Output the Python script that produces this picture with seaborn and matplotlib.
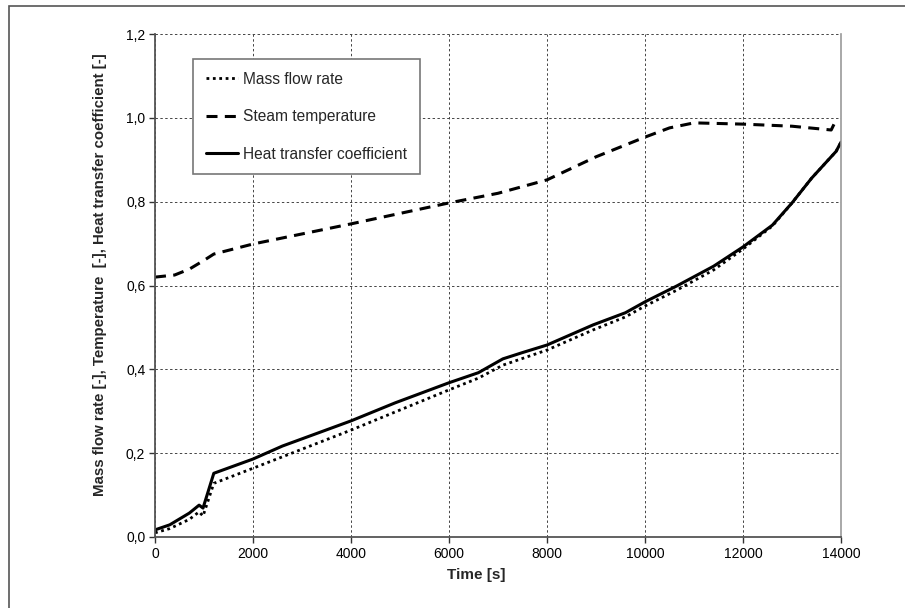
import matplotlib
matplotlib.use("Agg")
import matplotlib.pyplot as plt
import seaborn as sns
import pandas as pd
from matplotlib.patches import Rectangle
from matplotlib.ticker import FuncFormatter

# ---- data ----
t_mass = [0, 300, 700, 900, 980, 1200, 2000, 4000, 6000, 6600, 7100, 8000, 8940,
          9600, 10000, 10650, 11400, 12000, 12600, 13000, 13400, 13900, 14000]
mass_flow = [0.010, 0.020, 0.042, 0.060, 0.050, 0.128, 0.164, 0.255, 0.351, 0.379,
             0.410, 0.446, 0.494, 0.525, 0.551, 0.589, 0.637, 0.687, 0.742, 0.797,
             0.856, 0.920, 0.942]

t_steam = [0, 400, 700, 1000, 1200, 2000, 4000, 6000, 7000, 8000, 9000, 10000,
           10500, 11000, 12000, 13000, 13800, 13900]
steam_temp = [0.620, 0.625, 0.639, 0.660, 0.675, 0.699, 0.747, 0.797, 0.820, 0.852,
              0.907, 0.954, 0.976, 0.988, 0.985, 0.980, 0.971, 0.995]

t_htc = [0, 300, 700, 900, 980, 1200, 2000, 2600, 4000, 4900, 6000, 6600, 7100,
         7500, 8000, 8940, 9600, 10000, 10650, 11400, 12000, 12600, 13000, 13400,
         13900, 14000]
htc = [0.017, 0.029, 0.057, 0.076, 0.069, 0.152, 0.186, 0.217, 0.277, 0.320, 0.368,
       0.392, 0.425, 0.440, 0.458, 0.506, 0.535, 0.561, 0.599, 0.646, 0.692, 0.744,
       0.797, 0.856, 0.920, 0.942]

labels = ["Mass flow rate", "Steam temperature", "Heat transfer coefficient"]
x_ticks = [0, 2000, 4000, 6000, 8000, 10000, 12000, 14000]
y_ticks = [0.0, 0.2, 0.4, 0.6, 0.8, 1.0, 1.2]

sns.set_style("white")
plt.rcParams["font.family"] = ["Liberation Sans", "DejaVu Sans"]

fig = plt.figure(figsize=(9.05, 6.08), dpi=100)
ax = fig.add_axes([155 / 905, 1 - 537 / 608, (841 - 155) / 905, (537 - 34) / 608])

df_m = pd.DataFrame({"t": t_mass, "v": mass_flow})
df_s = pd.DataFrame({"t": t_steam, "v": steam_temp})
df_h = pd.DataFrame({"t": t_htc, "v": htc})

sns.lineplot(data=df_m, x="t", y="v", ax=ax, color="black", lw=2.0,
             linestyle=(0, (1, 1.3)), label=labels[0])
sns.lineplot(data=df_s, x="t", y="v", ax=ax, color="black", lw=2.2,
             linestyle=(0, (3.6, 2.4)), label=labels[1])
sns.lineplot(data=df_h, x="t", y="v", ax=ax, color="black", lw=2.2,
             linestyle="-", label=labels[2])

ax.set_xlim(0, 14000)
ax.set_ylim(0, 1.2)
ax.set_xticks(x_ticks)
ax.set_yticks(y_ticks)
ax.xaxis.set_major_formatter(FuncFormatter(lambda v, p: f"{int(v)}"))
ax.yaxis.set_major_formatter(FuncFormatter(lambda v, p: f"{v:.1f}".replace(".", ",")))
ax.tick_params(axis="both", labelsize=10, colors="#333333", length=4, width=1,
               direction="out", pad=3, left=True, bottom=True)
ax.tick_params(axis="both", labelcolor="black")

ax.grid(True, color="#444444", linestyle=(0, (2.5, 2.5)), linewidth=0.7)
ax.spines["top"].set_visible(False)
for s in ["left", "bottom"]:
    ax.spines[s].set_color("#555555")
    ax.spines[s].set_linewidth(1.3)
ax.spines["right"].set_color("#999999")
ax.spines["right"].set_linewidth(1.2)

ax.set_xlabel("Time [s]", fontsize=11, fontweight="bold")
ax.xaxis.set_label_coords((476 - 155) / 686, (537 - 575) / 503)
ax.xaxis.label.set_va("center")
ax.set_ylabel("Mass flow rate [-], Temperature  [-], Heat transfer coefficient [-]",
              fontsize=10.8, fontweight="bold")
ax.yaxis.set_label_coords((100 - 155) / 686, (537 - 275) / 503)
ax.yaxis.label.set_va("center")

leg = ax.legend(loc="upper left", bbox_to_anchor=((193 - 155) / 686, 1 - (59 - 34) / 503),
                fontsize=11.2, frameon=True, fancybox=False, handlelength=2.1,
                handletextpad=0.3, labelspacing=1.44, borderpad=0.82, borderaxespad=0)
leg.get_frame().set_edgecolor("#777777")
leg.get_frame().set_linewidth(1.2)
leg.get_frame().set_facecolor("white")
leg.get_frame().set_alpha(1)

# outer chart-area frame (cropped at right/bottom in the reference)
fig.patches.append(Rectangle((9 / 905, -0.1), 1.2, 1 - 6 / 608 + 0.1,
                             transform=fig.transFigure, fill=False,
                             edgecolor="#555555", linewidth=1.2))

fig.savefig("out.png", dpi=100)
